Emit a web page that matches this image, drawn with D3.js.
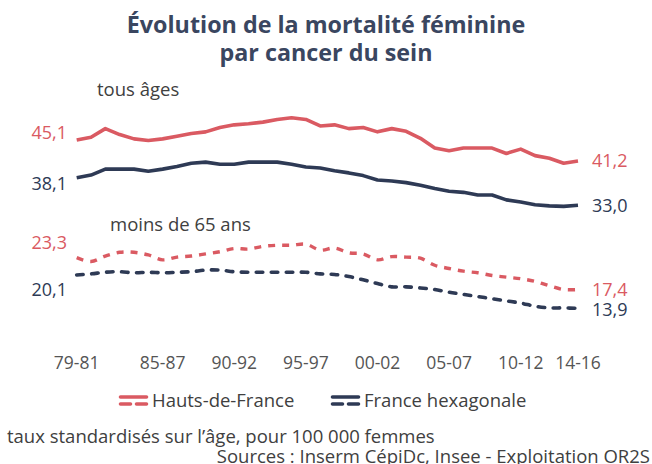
<!DOCTYPE html>
<html><head><meta charset="utf-8">
<script src="https://cdn.jsdelivr.net/npm/d3@7"></script>
<style>
html,body{margin:0;padding:0;background:#fff;}
svg{display:block;font-family:"Open Sans",sans-serif;}
</style></head>
<body>
<svg id="c" width="652" height="464"></svg>
<script>
const categories = ["79-81","80-82","81-83","82-84","83-85","84-86","85-87","86-88","87-89","88-90","89-91","90-92","91-93","92-94","93-95","94-96","95-97","96-98","97-99","98-00","99-01","00-02","01-03","02-04","03-05","04-06","05-07","06-08","07-09","08-10","09-11","10-12","11-13","12-14","13-15","14-16"];
const tickLabels = ["79-81","85-87","90-92","95-97","00-02","05-07","10-12","14-16"];
const hdfTousAges = [45.1,45.6,47.2,46.1,45.3,45.0,45.3,45.8,46.3,46.6,47.4,47.9,48.1,48.4,48.9,49.2,48.9,47.7,47.9,47.2,47.4,46.6,47.2,46.7,45.4,43.6,43.1,43.6,43.6,43.6,42.6,43.4,42.2,41.7,40.8,41.2];
const franceTousAges = [38.1,38.6,39.7,39.7,39.7,39.3,39.7,40.2,40.8,41.0,40.6,40.6,41.0,41.0,41.0,40.6,40.1,39.9,39.4,39.0,38.5,37.7,37.5,37.2,36.7,36.1,35.6,35.4,34.9,34.9,34.0,33.6,33.1,32.9,32.8,33.0];
const hdfMoins65 = [23.3,22.6,23.6,24.3,24.3,23.8,22.9,23.4,23.6,24.0,24.4,25.0,24.9,25.4,25.6,25.6,25.8,24.7,25.1,24.2,24.0,22.9,23.5,23.4,23.2,21.9,21.3,20.8,20.5,20.0,19.7,19.4,18.9,18.1,17.4,17.4];
const franceMoins65 = [20.1,20.3,20.6,20.7,20.5,20.6,20.5,20.6,20.7,21.0,21.0,20.7,20.6,20.6,20.6,20.6,20.6,20.3,20.2,19.8,19.2,18.5,17.9,17.9,17.7,17.4,16.9,16.5,16.1,15.7,15.3,14.9,14.3,14.0,14.0,13.9];
const seriesNames = ["Hauts-de-France","France hexagonale"];
const startLabels = ["45,1","38,1","23,3","20,1"];
const endLabels = ["41,2","33,0","17,4","13,9"];

const RED = "#da5a62", NAVY = "#2e3a55", TXT = "#404040";
const svg = d3.select("#c");
const x = d3.scalePoint().domain(categories).range([76.7, 578]);
const y = d3.scaleLinear().domain([0, 50]).range([383.5, 113.5]);

// title
svg.append("text").attr("x", 326).attr("y", 33).attr("text-anchor","middle")
  .attr("font-size", 23.3).attr("font-weight", 700).attr("fill", "#3a4660")
  .text("Évolution de la mortalité féminine");
svg.append("text").attr("x", 326).attr("y", 61).attr("text-anchor","middle")
  .attr("font-size", 23.3).attr("font-weight", 700).attr("fill", "#3a4660")
  .text("par cancer du sein");

svg.append("text").attr("x", 97).attr("y", 96).attr("font-size", 18.5).attr("fill", TXT).text("tous âges");
svg.append("text").attr("x", 110).attr("y", 231).attr("font-size", 18.5).attr("fill", TXT).text("moins de 65 ans");

const straight = d3.line().x((d,i)=>x(categories[i])).y(d=>y(d));
const smooth = d3.line().x((d,i)=>x(categories[i])).y(d=>y(d)).curve(d3.curveCatmullRom.alpha(0));

const g = svg.append("g");
g.append("path").datum(franceMoins65).attr("d", smooth).attr("fill","none")
  .attr("stroke", NAVY).attr("stroke-width", 3.6).attr("stroke-linecap","round").attr("stroke-dasharray","6.5,8.5");
g.append("path").datum(hdfMoins65).attr("d", smooth).attr("fill","none")
  .attr("stroke", RED).attr("stroke-width", 3.4).attr("stroke-dasharray","7,7");
g.append("path").datum(franceTousAges).attr("d", straight).attr("fill","none")
  .attr("stroke", NAVY).attr("stroke-width", 3.6).attr("stroke-linejoin","round");
g.append("path").datum(hdfTousAges).attr("d", straight).attr("fill","none")
  .attr("stroke", RED).attr("stroke-width", 3.6).attr("stroke-linejoin","round");

// value labels
const allSeries = [hdfTousAges, franceTousAges, hdfMoins65, franceMoins65];
const colors = [RED, NAVY, RED, NAVY];
const startDy = [-7, 6, -15, 15];
const endDy = [0, 0, 0, 1];
allSeries.forEach((s,k)=>{
  svg.append("text").attr("x", 67).attr("y", y(s[0]) + startDy[k]).attr("dy","0.35em")
    .attr("text-anchor","end").attr("font-size", 18).attr("fill", colors[k]).text(startLabels[k]);
  svg.append("text").attr("x", 592).attr("y", y(s[s.length-1]) + endDy[k]).attr("dy","0.35em")
    .attr("font-size", 18).attr("fill", colors[k]).text(endLabels[k]);
});

// x axis labels
svg.append("g").selectAll("text").data(tickLabels).join("text")
  .attr("x", d=>x(d)).attr("y", 369).attr("text-anchor","middle")
  .attr("font-size", 17.5).attr("fill", "#555").text(d=>d);

// legend
const legend = [{name: seriesNames[0], color: RED, x: 119}, {name: seriesNames[1], color: NAVY, x: 331}];
legend.forEach(l=>{
  const lg = svg.append("g");
  lg.append("line").attr("x1", l.x+1.5).attr("x2", l.x+27.5).attr("y1", 397).attr("y2", 397)
    .attr("stroke", l.color).attr("stroke-width", 3.6).attr("stroke-linecap","round");
  lg.append("line").attr("x1", l.x+1.5).attr("x2", l.x+27.5).attr("y1", 404).attr("y2", 404)
    .attr("stroke", l.color).attr("stroke-width", 3.6).attr("stroke-linecap","round").attr("stroke-dasharray","10,6");
  lg.append("text").attr("x", l.x+33).attr("y", 406.5).attr("font-size", 18.5).attr("fill", TXT).text(l.name);
});

svg.append("text").attr("x", 7).attr("y", 443).attr("font-size", 18.5).attr("fill", TXT)
  .text("taux standardisés sur l’âge, pour 100 000 femmes");
svg.append("text").attr("x", 650).attr("y", 463).attr("text-anchor","end").attr("font-size", 18.5).attr("fill", TXT)
  .text("Sources : Inserm CépiDc, Insee - Exploitation OR2S");
</script>
</body></html>
